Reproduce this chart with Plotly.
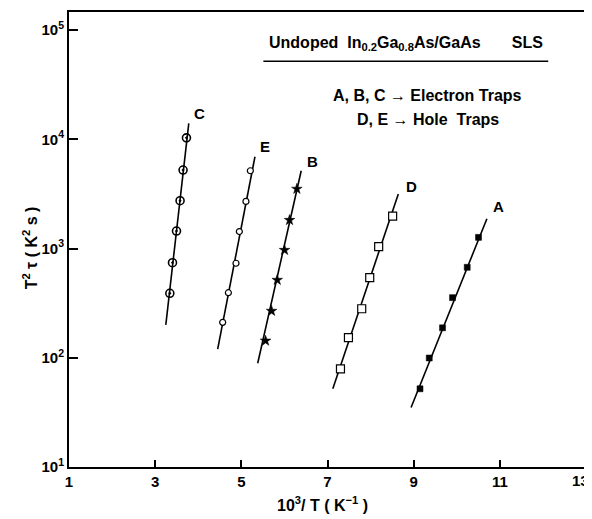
import plotly.graph_objects as go

# ---- data ----
# Trap C
c_x = [3.726, 3.648, 3.578, 3.495, 3.402, 3.340]
c_y = [10300, 5230, 2740, 1445, 741, 389]
c_fit_x = [3.78, 3.247]
c_fit_y = [14000, 200]
# Trap E
e_x = [5.209, 5.107, 4.954, 4.876, 4.699, 4.567]
e_y = [5150, 2700, 1430, 733, 394, 211]
e_fit_x = [5.316, 4.451]
e_fit_y = [6920, 120]
# Trap B
b_x = [6.289, 6.119, 6.003, 5.834, 5.702, 5.563]
b_y = [3510, 1820, 968, 515, 268, 143]
b_fit_x = [6.39, 5.38]
b_fit_y = [5150, 89]
# Trap D
d_x = [8.512, 8.188, 7.980, 7.794, 7.486, 7.301]
d_y = [1980, 1040, 541, 281, 153, 79]
d_fit_x = [8.644, 7.123]
d_fit_y = [3155, 52]
# Trap A
a_x = [10.505, 10.243, 9.902, 9.670, 9.362, 9.147]
a_y = [1265, 673, 355, 188, 99.5, 52]
a_fit_x = [10.70, 8.94]
a_fit_y = [1875, 35]

labels = ["C", "E", "B", "D", "A"]
label_x = [4.03, 5.54, 6.66, 8.94, 10.98]
label_logy = [4.24, 3.932, 3.795, 3.566, 3.383]

x_ticks = [1, 3, 5, 7, 9, 11, 13]
x_tick_text = ["1", "3", "5", "7", "9", "11", ""]   # "13" drawn separately so it is not clipped
last_x_label = "13"
y_ticks = [10, 100, 1000, 10000, 100000]
y_tick_text = ["10<sup>1</sup>", "10<sup>2</sup>", "10<sup>3</sup>", "10<sup>4</sup>", "10<sup>5</sup>"]

FONT = "Liberation Sans"

fig = go.Figure()

series = [
    (c_x, c_y, c_fit_x, c_fit_y, dict(symbol="circle-open-dot", size=8, color="black", line=dict(width=1.6, color="black"))),
    (e_x, e_y, e_fit_x, e_fit_y, dict(symbol="circle", size=6, color="white", line=dict(width=1.2, color="black"))),
    (b_x, b_y, b_fit_x, b_fit_y, dict(symbol="star", size=8, color="black", line=dict(width=0.5, color="black"))),
    (d_x, d_y, d_fit_x, d_fit_y, dict(symbol="square", size=8, color="white", line=dict(width=1.2, color="black"))),
    (a_x, a_y, a_fit_x, a_fit_y, dict(symbol="square", size=6, color="black", line=dict(width=0.5, color="black"))),
]

for px, py, fx, fy, mk in series:
    fig.add_trace(go.Scatter(x=fx, y=fy, mode="lines", line=dict(color="black", width=1.6),
                             showlegend=False, hoverinfo="skip"))
    fig.add_trace(go.Scatter(x=px, y=py, mode="markers", marker=mk, showlegend=False))

for lab, lx, ly in zip(labels, label_x, label_logy):
    fig.add_annotation(x=lx, y=ly, text="<b>%s</b>" % lab, showarrow=False,
                       xanchor="center", yanchor="middle",
                       font=dict(family=FONT, size=15, color="black"))

fig.add_annotation(xref="paper", yref="paper", x=0.652, y=0.930, xanchor="center", yanchor="middle",
                   text="<b>Undoped  In<sub>0.2</sub>Ga<sub>0.8</sub>As/GaAs       SLS</b>",
                   showarrow=False, font=dict(family=FONT, size=16, color="black"))
fig.add_shape(type="line", xref="paper", yref="paper", x0=0.376, x1=0.927, y0=0.892, y1=0.892,
              line=dict(color="black", width=1.5))
fig.add_annotation(xref="paper", yref="paper", x=0.693, y=0.817, xanchor="center", yanchor="middle",
                   text="<b>A, B, C \u2192 Electron Traps</b>",
                   showarrow=False, font=dict(family=FONT, size=16, color="black"))
fig.add_annotation(xref="paper", yref="paper", x=0.695, y=0.763, xanchor="center", yanchor="middle",
                   text="<b>D, E \u2192 Hole  Traps</b>",
                   showarrow=False, font=dict(family=FONT, size=16, color="black"))

# last x tick label, right-aligned at the frame edge
fig.add_annotation(xref="paper", yref="paper", x=1, y=0, xanchor="right", yanchor="top",
                   xshift=5, yshift=-3, text="<b>%s</b>" % last_x_label, showarrow=False,
                   font=dict(family=FONT, size=15, color="black"))

# axis titles
fig.add_annotation(xref="paper", yref="paper", x=-0.075, y=0.481, textangle=-90,
                   xanchor="center", yanchor="middle",
                   text="<b>T<sup>2</sup> \u03c4 ( K<sup>2</sup> s )</b>", showarrow=False,
                   font=dict(family=FONT, size=16, color="black"))
fig.add_annotation(xref="paper", yref="paper", x=0.49, y=-0.056, xanchor="center", yanchor="top",
                   text="<b>10<sup>3</sup>/ T ( K<sup>\u22121</sup> )</b>", showarrow=False,
                   font=dict(family=FONT, size=16, color="black"))

fig.update_xaxes(range=[1, 13], tickvals=x_ticks, ticktext=x_tick_text, ticks="inside", ticklen=7,
                 tickwidth=2, tickcolor="black", showline=True, linecolor="black", linewidth=2,
                 mirror=True, showgrid=False, zeroline=False, automargin=False,
                 tickfont=dict(family=FONT, size=15, color="black", weight="bold"))
fig.update_yaxes(type="log", range=[1, 5.165], tickvals=y_ticks, ticktext=y_tick_text,
                 ticks="inside", ticklen=9, tickwidth=2, tickcolor="black",
                 showline=True, linecolor="black", linewidth=2, mirror=True,
                 showgrid=False, zeroline=False, automargin=False,
                 tickfont=dict(family=FONT, size=15, color="black", weight="bold"))

# page body adds an 8px offset, so the figure is 584x511 to fill the 592x519 window
fig.update_layout(width=584, height=511, autosize=False, margin=dict(l=61, r=6, t=4, b=52),
                  plot_bgcolor="white", paper_bgcolor="white", showlegend=False)

fig.write_html("out.html")
